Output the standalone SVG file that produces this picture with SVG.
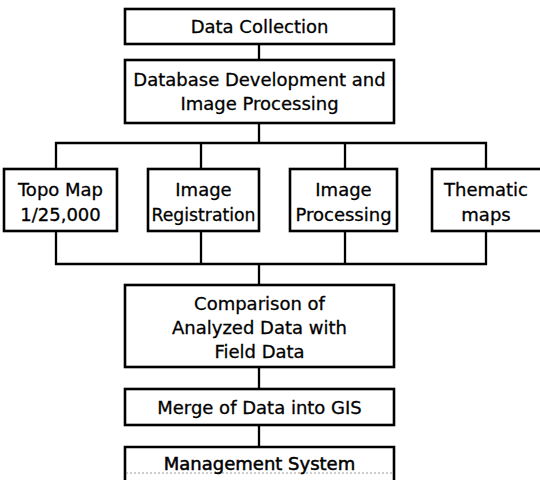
<svg xmlns="http://www.w3.org/2000/svg" width="540" height="480" viewBox="0 0 540 480">
  <style>
    .box { fill: #ffffff; stroke: #000000; stroke-width: 2.6; }
    .lbl { font-family: "DejaVu Sans", "Liberation Sans", sans-serif; font-size: 18px; fill: #000000; stroke: #000000; stroke-width: 0.3; text-anchor: middle; }
    .wire { fill: none; stroke: #000000; stroke-width: 2.3; }
  </style>
  <rect width="540" height="480" fill="#ffffff"/>

  <!-- connectors -->
  <g id="connectors" class="wire">
    <line x1="259" y1="44" x2="259" y2="60"/>
    <line x1="259" y1="123" x2="259" y2="143"/>
    <polyline points="56,169 56,143 486,143 486,169"/>
    <line x1="201" y1="143" x2="201" y2="169"/>
    <line x1="345" y1="143" x2="345" y2="169"/>
    <polyline points="56,231 56,264 486,264 486,231"/>
    <line x1="201" y1="231" x2="201" y2="264"/>
    <line x1="345" y1="231" x2="345" y2="264"/>
    <line x1="259" y1="264" x2="259" y2="285"/>
    <line x1="259" y1="367" x2="259" y2="389"/>
    <line x1="259" y1="425" x2="259" y2="447"/>
  </g>

  <g id="data-collection">
    <rect class="box" x="125" y="9" width="269" height="35"/>
    <text class="lbl" x="259.5" y="33">Data Collection</text>
  </g>

  <g id="database-development">
    <rect class="box" x="125" y="60" width="269" height="63"/>
    <text class="lbl" x="259.5" y="86">Database Development and</text>
    <text class="lbl" x="259.5" y="110">Image Processing</text>
  </g>

  <g id="topo-map">
    <rect class="box" x="4" y="169" width="113" height="62"/>
    <text class="lbl" x="60.5" y="196">Topo Map</text>
    <text class="lbl" x="60.5" y="221">1/25,000</text>
  </g>

  <g id="image-registration">
    <rect class="box" x="148" y="169" width="111" height="62"/>
    <text class="lbl" x="203.5" y="196">Image</text>
    <text class="lbl" x="203.5" y="221" textLength="104" lengthAdjust="spacingAndGlyphs">Registration</text>
  </g>

  <g id="image-processing">
    <rect class="box" x="290" y="169" width="107" height="62"/>
    <text class="lbl" x="343.5" y="196">Image</text>
    <text class="lbl" x="343.5" y="221">Processing</text>
  </g>

  <g id="thematic-maps">
    <rect class="box" x="432" y="169" width="112" height="62"/>
    <text class="lbl" x="486" y="196">Thematic</text>
    <text class="lbl" x="486" y="221">maps</text>
  </g>

  <g id="comparison">
    <rect class="box" x="125" y="285" width="269" height="82"/>
    <text class="lbl" x="259.5" y="310">Comparison of</text>
    <text class="lbl" x="259.5" y="334">Analyzed Data with</text>
    <text class="lbl" x="259.5" y="358">Field Data</text>
  </g>

  <g id="merge-gis">
    <rect class="box" x="125" y="389" width="269" height="36"/>
    <text class="lbl" x="259.5" y="414">Merge of Data into GIS</text>
  </g>

  <g id="management-system">
    <path d="M125,480 V447 H394 V480" fill="#ffffff" stroke="#000000" stroke-width="2.6"/>
    <line x1="126" y1="473" x2="393" y2="473" stroke="#9a9a9a" stroke-width="1" stroke-dasharray="2 2"/>
    <text class="lbl" x="259.5" y="470" style="stroke-width:0.5">Management System</text>
  </g>
</svg>
